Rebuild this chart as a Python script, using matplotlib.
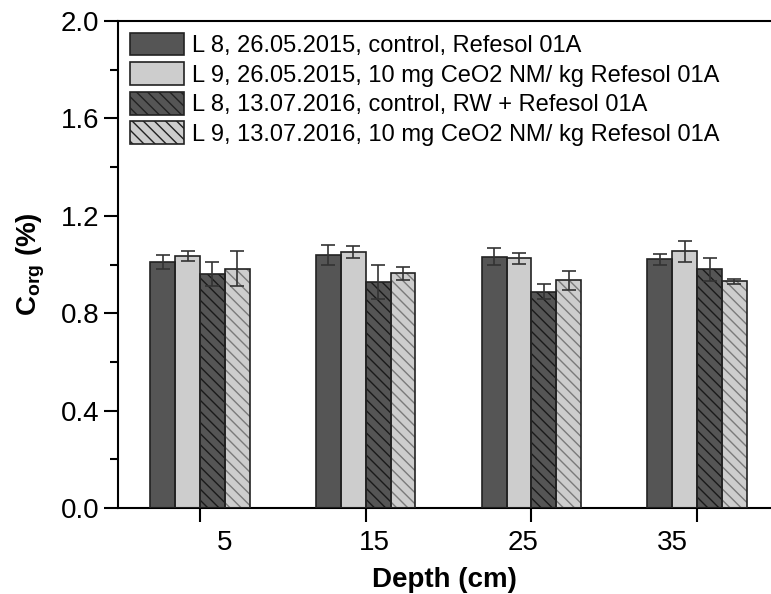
import matplotlib
matplotlib.use('Agg')
import matplotlib.pyplot as plt
import numpy as np

plt.rcParams['font.family'] = 'Liberation Sans'
plt.rcParams['mathtext.fontset'] = 'custom'
plt.rcParams['mathtext.rm'] = 'Liberation Sans'
plt.rcParams['mathtext.bf'] = 'Liberation Sans:bold'
plt.rcParams['hatch.linewidth'] = 1.0

# data
depths = ['5', '15', '25', '35']
labels = ['L 8, 26.05.2015, control, Refesol 01A',
          'L 9, 26.05.2015, 10 mg CeO2 NM/ kg Refesol 01A',
          'L 8, 13.07.2016, control, RW + Refesol 01A',
          'L 9, 13.07.2016, 10 mg CeO2 NM/ kg Refesol 01A']
l8_2015 = [1.009, 1.039, 1.032, 1.021]
l9_2015 = [1.035, 1.051, 1.025, 1.054]
l8_2016 = [0.961, 0.928, 0.888, 0.980]
l9_2016 = [0.983, 0.964, 0.935, 0.931]
l8_2015_err = [0.028, 0.040, 0.036, 0.024]
l9_2015_err = [0.021, 0.026, 0.024, 0.044]
l8_2016_err = [0.050, 0.068, 0.031, 0.048]
l9_2016_err = [0.072, 0.026, 0.039, 0.010]

series = [l8_2015, l9_2015, l8_2016, l9_2016]
errors = [l8_2015_err, l9_2015_err, l8_2016_err, l9_2016_err]
faces = ['#555555', '#cdcdcd', '#555555', '#cdcdcd']
hatch_cols = [None, None, '#1a1a1a', '#7a7a7a']
hatches = [None, None, '\\\\\\', '\\\\\\']

fig = plt.figure(figsize=(7.71, 5.94), dpi=100)
ax = fig.add_axes([0.153, 0.1448, 0.847, 0.8198])

x = np.arange(len(depths))
w = 0.15
handles = []
for i, (vals, errs) in enumerate(zip(series, errors)):
    pos = x + (i - 1.5) * w
    if hatches[i]:
        ax.bar(pos, vals, w, color=faces[i], edgecolor=hatch_cols[i],
               hatch=hatches[i], linewidth=0, zorder=2)
    else:
        ax.bar(pos, vals, w, color=faces[i], linewidth=0, zorder=2)
    ax.bar(pos, vals, w, fill=False, edgecolor='#222222', linewidth=1.2, zorder=3)
    ax.errorbar(pos, vals, yerr=errs, fmt='none', ecolor='#333333',
                elinewidth=1.2, capsize=5, capthick=1.2, zorder=4)
    h = plt.Rectangle((0, 0), 1, 1, facecolor=faces[i], edgecolor='#222222',
                      hatch=hatches[i], linewidth=1.2)
    handles.append(h)

ax.set_ylim(0, 2.0)
ax.set_xlim(-0.495, 3.446)
ax.set_yticks(np.arange(0, 2.01, 0.4))
ax.set_yticks(np.arange(0.2, 2.0, 0.4), minor=True)
ax.set_yticklabels(['0.0', '0.4', '0.8', '1.2', '1.6', '2.0'])
ax.set_xticks(x)
ax.set_xticklabels([])
# depth labels sit slightly off the group centres in the original
ax.set_xticks(0.15 + 0.9 * x, depths, minor=True)
ax.tick_params(axis='x', which='minor', length=0, pad=16, labelsize=20)
ax.tick_params(axis='x', which='major', length=10, width=1.5, direction='out')
ax.tick_params(axis='y', which='major', length=10, width=1.5, direction='out', labelsize=20)
ax.tick_params(axis='y', which='minor', length=6, width=1.5, direction='out')

ax.spines['right'].set_visible(False)
for s in ['left', 'bottom', 'top']:
    ax.spines[s].set_linewidth(1.5)

ax.set_xlabel('Depth (cm)', fontsize=20, fontweight='bold', labelpad=8)
ax.set_ylabel(r'$\mathbf{C_{org}}$ (%)', fontsize=20, fontweight='bold', labelpad=10)

leg = ax.legend(handles, labels, loc='upper left', frameon=False, fontsize=17,
                handlelength=2.3, handleheight=1.1, labelspacing=0.22,
                handletextpad=0.35, borderaxespad=0.3, borderpad=0.2)

fig.savefig('out.png', dpi=100)
